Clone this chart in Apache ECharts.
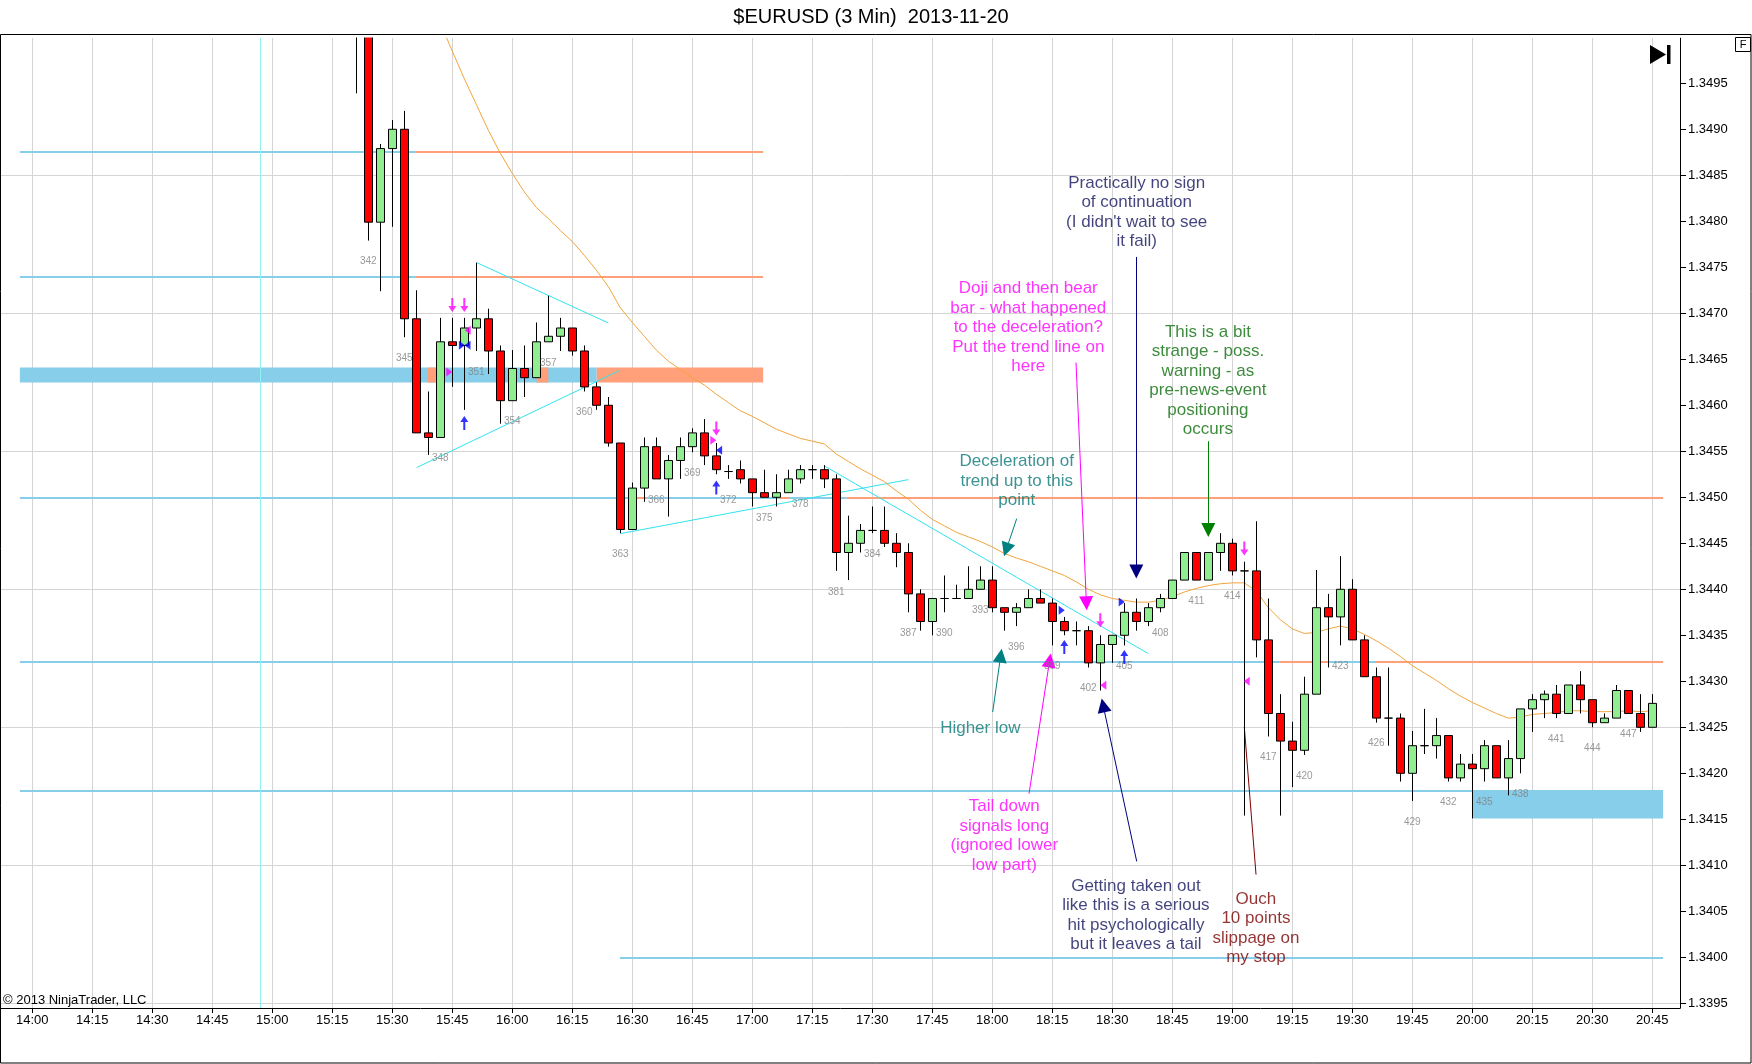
<!DOCTYPE html>
<html><head><meta charset="utf-8">
<script src="https://cdn.jsdelivr.net/npm/echarts@6/dist/echarts.min.js"></script>
<style>html,body{margin:0;padding:0;background:#fff}#c{width:1752px;height:1064px}</style>
</head><body><div id="c"></div>
<script>
// ---------------- DATA ----------------
const barTimes = [
 '15:21','15:24','15:27','15:30','15:33','15:36','15:39','15:42','15:45','15:48','15:51','15:54','15:57',
 '16:00','16:03','16:06','16:09','16:12','16:15','16:18','16:21','16:24','16:27','16:30','16:33','16:36','16:39','16:42','16:45','16:48','16:51','16:54','16:57',
 '17:00','17:03','17:06','17:09','17:12','17:15','17:18','17:21','17:24','17:27','17:30','17:33','17:36','17:39','17:42','17:45','17:48','17:51','17:54','17:57',
 '18:00','18:03','18:06','18:09','18:12','18:15','18:18','18:21','18:24','18:27','18:30','18:33','18:36','18:39','18:42','18:45','18:48','18:51','18:54','18:57',
 '19:00','19:03','19:06','19:09','19:12','19:15','19:18','19:21','19:24','19:27','19:30','19:33','19:36','19:39','19:42','19:45','19:48','19:51','19:54','19:57',
 '20:00','20:03','20:06','20:09','20:12','20:15','20:18','20:21','20:24','20:27','20:30','20:33','20:36','20:39','20:42','20:45'
];
const opens = [
 1.3503,1.3508,1.34799,1.34879,1.34900,1.34694,1.34570,1.34565,1.34669,1.34665,1.34684,1.34694,1.34659,
 1.34605,1.34640,1.34630,1.34669,1.34675,1.34684,1.34659,1.34620,1.34600,1.34559,1.34465,1.34510,1.34555,1.34520,1.34540,1.34555,1.34570,1.34545,1.34528,1.34530,
 1.34520,1.34505,1.34500,1.34505,1.34520,1.34530,1.34530,1.34520,1.34440,1.34450,1.34464,1.34464,1.34450,1.34440,1.34395,1.34365,1.34390,1.34390,1.34390,1.34400,
 1.34410,1.34380,1.34375,1.34380,1.34390,1.34385,1.34365,1.34355,1.34355,1.34320,1.34340,1.34350,1.34375,1.34365,1.34380,1.34390,1.34410,1.34440,1.34410,1.34440,
 1.34450,1.34420,1.34420,1.34345,1.34265,1.34235,1.34225,1.34286,1.34380,1.34370,1.34400,1.34345,1.34305,1.34260,1.34260,1.34200,1.34230,1.34230,1.34241,1.34195,
 1.34210,1.34205,1.34230,1.34195,1.34216,1.34270,1.34280,1.34286,1.34265,1.34296,1.34280,1.34255,1.34260,1.34290,1.34265,1.34250
];
const closes = [
 1.3508,1.34799,1.34879,1.34900,1.34694,1.34570,1.34565,1.34669,1.34665,1.34684,1.34694,1.34659,1.34605,
 1.34640,1.34630,1.34669,1.34675,1.34684,1.34659,1.34620,1.34600,1.34559,1.34465,1.34510,1.34555,1.34520,1.34540,1.34555,1.34570,1.34545,1.34530,1.34528,1.34520,
 1.34505,1.34500,1.34505,1.34520,1.34530,1.34530,1.34520,1.34440,1.34450,1.34464,1.34464,1.34450,1.34440,1.34395,1.34365,1.34390,1.34390,1.34390,1.34400,1.34410,
 1.34380,1.34375,1.34380,1.34390,1.34385,1.34365,1.34355,1.34355,1.34320,1.34340,1.34350,1.34375,1.34365,1.34380,1.34390,1.34410,1.34440,1.34410,1.34440,1.34450,
 1.34420,1.34420,1.34345,1.34265,1.34235,1.34225,1.34286,1.34380,1.34370,1.34400,1.34345,1.34305,1.34260,1.34260,1.34200,1.34230,1.34230,1.34241,1.34195,1.34210,
 1.34205,1.34230,1.34195,1.34216,1.34270,1.34280,1.34286,1.34265,1.34296,1.34280,1.34255,1.34260,1.34290,1.34265,1.34250,1.34276
];
const highs = [
 1.3512,1.3510,1.34884,1.34910,1.34920,1.34725,1.34615,1.34695,1.34695,1.34695,1.34755,1.34705,1.34665,
 1.34660,1.34665,1.34690,1.34719,1.34695,1.34684,1.34665,1.34625,1.34609,1.34559,1.34516,1.34565,1.34565,1.34546,1.34565,1.34575,1.34585,1.34559,1.34535,1.34540,
 1.34520,1.34530,1.34525,1.34530,1.34535,1.34535,1.34535,1.34525,1.34480,1.34471,1.34490,1.34490,1.34461,1.34450,1.34400,1.34390,1.34415,1.34405,1.34425,1.34425,
 1.34425,1.34380,1.34385,1.34400,1.34400,1.34390,1.34370,1.34365,1.34360,1.34350,1.34350,1.34385,1.34390,1.34385,1.34395,1.34410,1.34440,1.34440,1.34440,1.34461,
 1.34455,1.34430,1.34474,1.34390,1.34286,1.34256,1.34305,1.34421,1.34395,1.34436,1.34411,1.34350,1.34315,1.34315,1.34265,1.34246,1.34270,1.34260,1.34241,1.34221,
 1.34221,1.34236,1.34230,1.34236,1.34270,1.34286,1.34290,1.34296,1.34296,1.34311,1.34280,1.34265,1.34296,1.34290,1.34286,1.34286
];
const lows = [
 1.34939,1.34779,1.34724,1.34794,1.34674,1.34570,1.34546,1.34565,1.34620,1.34595,1.34659,1.34634,1.34580,
 1.34605,1.34609,1.34630,1.34669,1.34659,1.34654,1.34615,1.34595,1.34555,1.34461,1.34465,1.34495,1.34520,1.34479,1.34520,1.34549,1.34535,1.34525,1.34520,1.34515,
 1.34490,1.34500,1.34490,1.34505,1.34515,1.34520,1.34510,1.34420,1.34410,1.34440,1.34461,1.34446,1.34424,1.34375,1.34355,1.34350,1.34375,1.34390,1.34390,1.34400,
 1.34375,1.34355,1.34360,1.34380,1.34385,1.34339,1.34350,1.34339,1.34315,1.34290,1.34320,1.34339,1.34355,1.34360,1.34375,1.34390,1.34410,1.34410,1.34410,1.34420,
 1.34415,1.34154,1.34326,1.34240,1.34154,1.34185,1.34220,1.34286,1.34315,1.34339,1.34345,1.34305,1.34255,1.34230,1.34191,1.34170,1.34221,1.34216,1.34191,1.34191,
 1.34151,1.34191,1.34195,1.34176,1.34200,1.34245,1.34260,1.34260,1.34265,1.34265,1.34250,1.34255,1.34260,1.34265,1.34245,1.34250
];
const ema = [
 null,null,null,null,null,null,null,1.35015,1.34985,1.34955,1.34927,1.34899,1.34874,
 1.34852,1.34832,1.34815,1.34803,1.34790,1.34778,1.34763,1.34747,1.34729,1.34706,1.34690,1.34675,1.34660,1.34648,1.34639,1.34630,1.34622,1.34612,1.34603,1.34594,
 1.34588,1.34581,1.34574,1.34569,1.34564,1.34561,1.34558,1.34547,1.34539,1.34531,1.34524,1.34517,1.34507,1.34498,1.34486,1.34476,1.34469,1.34462,1.34457,1.34452,
 1.34446,1.34439,1.34434,1.34430,1.34425,1.34420,1.34415,1.34408,1.34400,1.34394,1.34390,1.34388,1.34386,1.34386,1.34388,1.34392,1.34397,1.34401,1.34404,1.34406,
 1.34407,1.34407,1.34398,1.34380,1.34367,1.34357,1.34352,1.34353,1.34357,1.34360,1.34357,1.34351,1.34344,1.34336,1.34327,1.34317,1.34309,1.34301,1.34292,1.34284,
 1.34277,1.34271,1.34265,1.34260,1.34261,1.34264,1.34265,1.34266,1.34268,1.34268,1.34267,1.34267,1.34267,1.34268,1.34267,1.34268
];
const firstBarNumber = 341;
const timeTicks = ['14:00','14:15','14:30','14:45','15:00','15:15','15:30','15:45','16:00','16:15','16:30','16:45','17:00','17:15',
 '17:30','17:45','18:00','18:15','18:30','18:45','19:00','19:15','19:30','19:45','20:00','20:15','20:30','20:45'];
const priceTicks = [1.3395,1.3400,1.3405,1.3410,1.3415,1.3420,1.3425,1.3430,1.3435,1.3440,1.3445,1.3450,1.3455,1.3460,1.3465,1.3470,1.3475,1.3480,1.3485,1.3490,1.3495];
const gridPrices = [1.3395,1.3410,1.3425,1.3440,1.3455,1.3470,1.3485];

// drawn horizontal levels: [kind, price, from, to]
const levelLines = [
 ['blue',1.348754,'13:56.9','15:35.7'],['orange',1.348754,'15:35.7','17:02.7'],
 ['blue',1.347402,'13:56.9','15:35.7'],['orange',1.347402,'15:35.7','17:02.7'],
 ['blue',1.34500,'13:56.9','17:23.6'],['orange',1.34500,'17:23.6','20:47.7'],
 ['orange',1.34500,'16:31.1','16:33.6'],['orange',1.34500,'17:06.9','17:09.4'],
 ['blue',1.343210,'13:56.9','19:11.9'],['orange',1.343210,'19:11.9','20:47.7'],['blue',1.343210,'19:23.9','19:35.7'],
 ['blue',1.341808,'13:56.9','20:47.7'],
 ['blue',1.34000,'16:26.9','20:47.7']
];
// zones: [kind, low, high, from, to]
const zones = [
 ['blue',1.346247,1.346410,'13:56.9','16:21.1'],
 ['orange',1.346247,1.346410,'15:38.9','15:43.2'],
 ['orange',1.346247,1.346410,'16:06.1','16:09.0'],
 ['orange',1.346247,1.346410,'16:21.1','17:02.7'],
 ['blue',1.341510,1.341808,'20:00','20:47.7']
];
const verticalMarkTime = '14:57';
const trendLines = [
 [['15:51.1',1.347551],['16:24.0',1.346895]],
 [['15:36.1',1.345323],['16:26.9',1.346380]],
 [['16:27.0',1.344605],['17:39.0',1.345192]],
 [['17:18.2',1.345337],['18:39.0',1.343301]]
];
// annotation arrows: [color, from, tip]
const arrows = [
 ['#000080',['18:36.0',1.347612],['18:36.0',1.344116]],
 ['#ff00ff',['18:20.93',1.346464],['18:23.6',1.343772]],
 ['#008000',['18:54.0',1.345609],['18:54.0',1.344568]],
 ['#008080',['18:06.1',1.344768],['18:02.93',1.344359]],
 ['#008080',['18:00.1',1.342666],['18:02.35',1.343355]],
 ['#ff00ff',['18:09.18',1.341779],['18:14.6',1.343301]],
 ['#000080',['18:36.1',1.341043],['18:27.35',1.342812]]
];
const pointerLines = [ ['#800000',['19:05.93',1.340899],['19:03.0',1.342503]] ];
// annotation texts: [text, color, time, price]
const annotations = [
 ["Practically no sign\nof continuation\n(I didn't wait to see\nit fail)", '#14145e', '18:36.1', 1.348099],
 ["Doji and then bear\nbar - what happened\nto the deceleration?\nPut the trend line on\nhere", '#ff00ff', '18:09.0', 1.346846],
 ["This is a bit\nstrange - poss.\nwarning - as\npre-news-event\npositioning\noccurs", '#0c6e0c', '18:53.9', 1.346266],
 ["Deceleration of\ntrend up to this\npoint", '#0a7878', '18:06.1', 1.345177],
 ["Higher low", '#0a7878', '17:57.0', 1.342492],
 ["Tail down\nsignals long\n(ignored lower\nlow part)", '#ff00ff', '18:03.0', 1.341319],
 ["Getting taken out\nlike this is a serious\nhit psychologically\nbut it leaves a tail", '#14145e', '18:35.9', 1.340457],
 ["Ouch\n10 points\nslippage on\nmy stop", '#7a0000', '19:05.9', 1.340317]
];
// signal markers: [shape, color, time, price]
const markers = [
 ['down','#ff00ff','15:45',1.34709],['down','#ff00ff','15:48',1.34709],['up','#0000ff','15:48',1.345808],
 ['right','#ff00ff','15:44.25',1.346362],['left','#ff00ff','15:48.85',1.346815],
 ['right','#0000ff','15:47.4',1.346652],['left','#0000ff','15:48.8',1.346652],
 ['down','#ff00ff','16:51',1.345747],['right','#ff00ff','16:50.25',1.345620],['left','#0000ff','16:51.7',1.345511],['up','#0000ff','16:51',1.345105],
 ['right','#0000ff','18:17.35',1.343772],['up','#0000ff','18:18',1.343373],
 ['down','#ff00ff','18:27',1.343663],['left','#ff00ff','18:27.75',1.342957],
 ['right','#0000ff','18:32.35',1.343862],['up','#0000ff','18:33',1.343264],
 ['down','#ff00ff','19:03',1.344442],['left','#ff00ff','19:03.6',1.343000]
];

// ---------------- CHART ----------------
const FONT = '"Liberation Sans", Arial, sans-serif';
const COLORS = { blue:'#87ceeb', orange:'#ffa07a' };
function toMin(t){ const p = t.split(':'); return (parseInt(p[0],10)-14)*60 + parseFloat(p[1]); }
function fmtTime(v){ const total = Math.round(v); const h = 14 + Math.floor(total/60); const m = total - (h-14)*60; return h + ':' + (m<10?'0':'') + m; }
const xMin = toMin('13:52.175'), xMax = toMin('20:51.925');
const yMin = 1.339449, yMax = 1.349992;

const SHAPES = {
 down:['path://M3,0L5,0L5,8L8,8L4,14L0,8L3,8Z',[8,14]],
 up:['path://M4,0L8,6L5,6L5,14L3,14L3,6L0,6Z',[8,14]],
 right:['path://M0,0L6,4.5L0,9Z',[6,9]],
 left:['path://M6,0L0,4.5L6,9Z',[6,9]]
};

const chart = echarts.init(document.getElementById('c'), null, {renderer:'canvas', width:1752, height:1064});

const gridLineData = timeTicks.map(t => ({coords:[[toMin(t), yMin],[toMin(t), yMax]]}))
  .concat(gridPrices.map(p => ({coords:[[xMin, p],[xMax, p]]})));

const levelData = levelLines.map(l => ({coords:[[toMin(l[2]), l[1]],[toMin(l[3]), l[1]]], lineStyle:{color:COLORS[l[0]], width:2, opacity:1}}));
const trendData = trendLines.map(t => ({coords:[[toMin(t[0][0]), t[0][1]],[toMin(t[1][0]), t[1][1]]], lineStyle:{color:'#30e4ee', width:1, opacity:1}}))
  .concat([{coords:[[toMin(verticalMarkTime), yMin],[toMin(verticalMarkTime), yMax]], lineStyle:{color:'#8ff2f2', width:1, opacity:1}}])
  .concat(pointerLines.map(a => ({coords:[[toMin(a[1][0]), a[1][1]],[toMin(a[2][0]), a[2][1]]], lineStyle:{color:a[0], width:1, opacity:1}})));

const option = {
  animation:false,
  backgroundColor:'#ffffff',
  grid:{left:1, right:72, top:38, bottom:56, containLabel:false},
  xAxis:{
    type:'value', min:xMin, max:xMax,
    axisLine:{show:true, onZero:false, lineStyle:{color:'#000', width:1}},
    axisTick:{show:true, length:5, lineStyle:{color:'#000'}, customValues: timeTicks.map(toMin)},
    axisLabel:{show:true, customValues: timeTicks.map(toMin), formatter:v => fmtTime(v), color:'#000', fontSize:13, fontFamily:FONT, margin:6},
    splitLine:{show:false}
  },
  yAxis:{
    type:'value', position:'right', min:yMin, max:yMax, scale:true,
    axisLine:{show:true, onZero:false, lineStyle:{color:'#000', width:1}},
    axisTick:{show:true, length:6, lineStyle:{color:'#000'}, customValues: priceTicks},
    axisLabel:{show:true, customValues: priceTicks, formatter:v => v.toFixed(4), color:'#000', fontSize:13, fontFamily:FONT, margin:8},
    splitLine:{show:false}
  },
  graphic:[
    // white header band: hides the parts of the tall opening candles that run past the plot top
    {type:'rect', z:50, silent:true, shape:{x:0, y:0, width:1752, height:37.5}, style:{fill:'#ffffff'}},
    {type:'rect', z:100, silent:true, shape:{x:0.5, y:34.5, width:1750.5, height:1028.5}, style:{fill:null, stroke:'#000', lineWidth:1}},
    {type:'text', z:100, silent:true, x:871, y:17, style:{text:'$EURUSD (3 Min)  2013-11-20', font:'20px ' + FONT, fill:'#000', align:'center', verticalAlign:'middle'}},
    {type:'text', z:100, silent:true, x:3, y:1000, style:{text:'\u00a9 2013 NinjaTrader, LLC', font:'13px ' + FONT, fill:'#000', align:'left', verticalAlign:'middle'}},
    {type:'rect', z:100, silent:true, shape:{x:1735.5, y:37.5, width:15, height:14}, style:{fill:'#fff', stroke:'#000', lineWidth:1}},
    {type:'text', z:101, silent:true, x:1743, y:45, style:{text:'F', font:'11px ' + FONT, fill:'#000', align:'center', verticalAlign:'middle'}},
    {type:'polygon', z:100, silent:true, shape:{points:[[1650,45],[1650,64],[1666,54.5]]}, style:{fill:'#000'}},
    {type:'rect', z:100, silent:true, shape:{x:1667, y:45, width:3.5, height:19}, style:{fill:'#000'}}
  ],
  series:[
    {type:'lines', id:'gridlines', coordinateSystem:'cartesian2d', z:0, silent:true, polyline:false,
     lineStyle:{color:'#d4d4d4', width:1, opacity:1}, data:gridLineData},
    {type:'custom', id:'zones', z:1, silent:true,
     encode:{x:[0,1], y:[2,3]},
     renderItem:(params, api) => {
       const a = api.coord([api.value(0), api.value(3)]);
       const b = api.coord([api.value(1), api.value(2)]);
       return {type:'rect', shape:{x:a[0], y:a[1], width:b[0]-a[0], height:b[1]-a[1]}, style:{fill:COLORS[zones[params.dataIndex][0]]}};
     },
     data: zones.map(z => [toMin(z[3]), toMin(z[4]), z[1], z[2]])},
    {type:'lines', id:'levels', coordinateSystem:'cartesian2d', z:2, silent:true, polyline:false, data:levelData},
    {type:'lines', id:'trends', coordinateSystem:'cartesian2d', z:3, silent:true, polyline:false, data:trendData},
    {type:'line', id:'ema', z:3, silent:true, showSymbol:false, symbol:'none', clip:true,
     lineStyle:{color:'#f2a43a', width:1},
     data: barTimes.map((t,i) => ema[i] == null ? null : [toMin(t), ema[i]]).filter(d => d)},
    {type:'candlestick', id:'bars', z:5, barWidth:8, silent:true, clip:true,
     itemStyle:{color:'#90ee90', color0:'#ff0000', borderColor:'#000', borderColor0:'#000', borderColorDoji:'#000', borderWidth:1},
     data: barTimes.map((t,i) => [toMin(t), opens[i], closes[i], lows[i], highs[i]])},
    {type:'scatter', id:'barnums', z:6, silent:true, symbolSize:1, itemStyle:{color:'rgba(0,0,0,0)'},
     label:{show:true, position:'inside', offset:[0,21], formatter:p => String(p.data.n), color:'#7f7f7f', fontSize:10, fontFamily:FONT},
     data: barTimes.map((t,i) => ({value:[toMin(t), lows[i]], n:firstBarNumber+i})).filter(d => d.n % 3 === 0)},
    {type:'scatter', id:'markers', z:7, silent:true,
     data: markers.map(m => ({value:[toMin(m[2]), m[3]], symbol:SHAPES[m[0]][0], symbolSize:SHAPES[m[0]][1], itemStyle:{color:m[1]}}))},
    {type:'lines', id:'arrows', coordinateSystem:'cartesian2d', z:6, silent:true, polyline:false,
     symbol:['none','triangle'], symbolSize:14, data:[]},
    {type:'scatter', id:'notes', z:8, silent:true, symbolSize:1, itemStyle:{color:'rgba(0,0,0,0)'},
     label:{show:true, position:'inside', formatter:p => p.data.txt, fontSize:17, lineHeight:19.5, fontFamily:FONT, align:'center', verticalAlign:'middle'},
     data: annotations.map(a => ({value:[toMin(a[2]), a[3]], txt:a[0], label:{color:a[1]}}))}
  ]
};
chart.setOption(option);

// arrow shafts end half a head before the tip so the head's point lands on the tip
const arrowData = arrows.map(a => {
  const from = [toMin(a[1][0]), a[1][1]];
  const tip = [toMin(a[2][0]), a[2][1]];
  const pf = chart.convertToPixel({gridIndex:0}, from);
  const pt = chart.convertToPixel({gridIndex:0}, tip);
  const dx = pt[0]-pf[0], dy = pt[1]-pf[1];
  const L = Math.hypot(dx, dy) || 1;
  const end = chart.convertFromPixel({gridIndex:0}, [pt[0]-dx/L*7, pt[1]-dy/L*7]);
  return {coords:[from, end], lineStyle:{color:a[0], width:1, opacity:1}};
});
chart.setOption({series:[{id:'arrows', data:arrowData}]});
</script>
</body></html>
